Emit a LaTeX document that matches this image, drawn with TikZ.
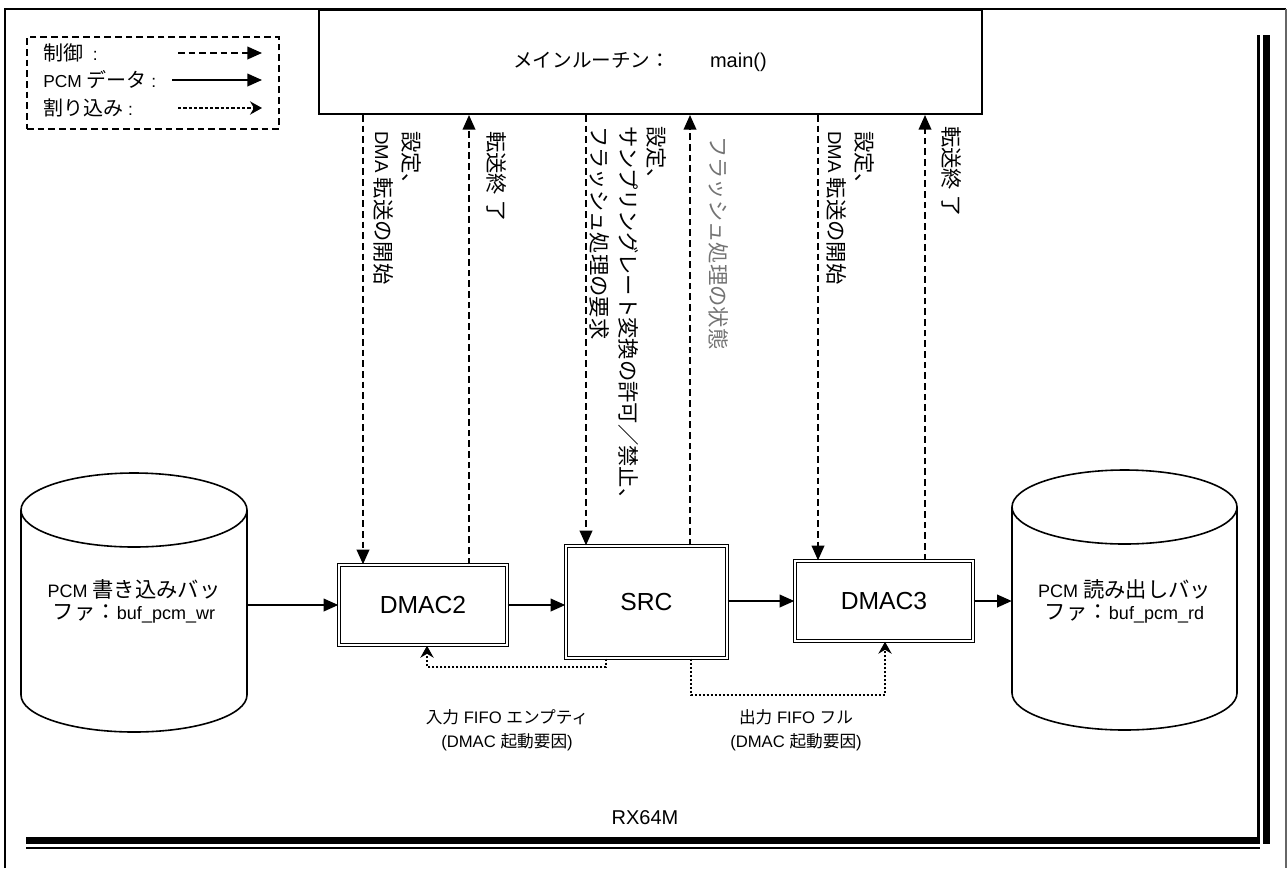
\documentclass[tikz,border=0pt]{standalone}
\usepackage{fontspec}
\setmainfont{Liberation Sans}
\newfontfamily\jp{Noto Sans CJK JP}
\newcommand\jtxt[2]{{\fontsize{#1}{#1}\selectfont\jp #2}}
\usetikzlibrary{arrows.meta}
\begin{document}
\begin{tikzpicture}[x=0.75pt,y=-0.75pt,
  ctrl/.style={line width=1.3pt, dash pattern=on 5pt off 3pt, -{Triangle[length=11pt,width=9.5pt]}},
  data/.style={line width=1.3pt, -{Triangle[length=11pt,width=9.5pt]}},
  intr/.style={line width=1.1pt, dash pattern=on 1.5pt off 1.5pt, -{Stealth[length=9pt,width=10pt,inset=3pt]}},
  dbox/.style={draw, double, line width=1.1pt, double distance=1.5pt, inner sep=0, fill=white, font=\fontsize{18.5}{20}\selectfont},
  vlab/.style={rotate=-90, anchor=north west, align=left, inner sep=0, font=\fontsize{14}{21.5}\selectfont},
  cyl/.style={line width=1.2pt},
  ctext/.style={inner sep=0, align=center, font=\fontsize{13.5}{16.5}\selectfont},
  ltext/.style={anchor=west, inner sep=0, font=\fontsize{13}{14}\selectfont},
  blab/.style={inner sep=0, align=center, font=\fontsize{12.5}{18}\selectfont}
]
\useasboundingbox (0,0) rectangle (1287,868);

% page frame
\draw[line width=1.5pt] (5,868) -- (5,9) -- (1286,9);
\draw[line width=1pt, black!60] (1286,9) -- (1286,868);

% RX64M frame (thick-thin)
\fill (26,836.5) rectangle (1260,844);
\draw[line width=1.8pt] (26,848) -- (1260,848);
\draw[line width=1.8pt] (1258.5,35) -- (1258.5,844);
\fill (1263,35) rectangle (1270,844);
\node[inner sep=0, font=\fontsize{15}{16}\selectfont] (rx) at (645,818) {RX64M};

% legend
\node[draw, line width=1.3pt, dash pattern=on 5pt off 3pt, minimum width=189pt, minimum height=69pt, inner sep=0] (leg) at (153,83) {};
\node[ltext] (lt1) at (43,53) {\jtxt{15}{制御}\ \ :};
\node[ltext] (lt2) at (43,80) {PCM \jtxt{15}{データ} :};
\node[ltext] (lt3) at (43,108) {\jtxt{15}{割り込み} :};
\coordinate (la1) at (178,53); \coordinate (lb1) at (262,53);
\coordinate (la2) at (172,80); \coordinate (lb2) at (262,80);
\coordinate (la3) at (178,108); \coordinate (lb3) at (262,108);
\draw[ctrl] (la1) -- (lb1);
\draw[data] (la2) -- (lb2);
\draw[intr, dash pattern=on 2.5pt off 1.5pt] (la3) -- (lb3);

% main routine box
\node[draw, line width=1.5pt, minimum width=497pt, minimum height=78pt, inner sep=0] (main) at (650.5,62) {};
\node[anchor=west, inner sep=0] (title) at (513,62) {\jtxt{14.7}{メインルーチン：}\hspace{30pt}{\fontsize{15}{16}\selectfont main()}};

% blocks
\node[dbox, minimum width=126pt, minimum height=60pt] (d2) at (423,605) {DMAC2};
\node[dbox, minimum width=120.75pt, minimum height=84pt] (src) at (646.5,602) {SRC};
\node[dbox, minimum width=133.5pt, minimum height=60pt] (d3) at (884,601) {DMAC3};

% cylinders
\draw[cyl, fill=white] (21,510) -- (21,695) arc[start angle=180, end angle=360, x radius=84.75pt, y radius=27.75pt] -- (247,510);
\draw[cyl] (134,510) ellipse [x radius=84.75pt, y radius=27.75pt];
\node[ctext, minimum width=169.5pt] (wr) at (134,601) {PCM \jtxt{16}{書き込みバッ}\\\jtxt{16}{ファ：}buf\_pcm\_wr};

\draw[cyl, fill=white] (1012,507) -- (1012,693) arc[start angle=180, end angle=360, x radius=84.375pt, y radius=27.75pt] -- (1237,507);
\draw[cyl] (1124.5,507) ellipse [x radius=84.375pt, y radius=27.75pt];
\node[ctext, minimum width=168.75pt] (rd) at (1124.5,601) {PCM \jtxt{16}{読み出しバッ}\\\jtxt{16}{ファ：}buf\_pcm\_rd};

% data flow
\draw[data] (wr.east |- d2.west) -- (d2.west);
\draw[data] (d2.east) -- (src.west |- d2.east);
\draw[data] (src.east |- d3.west) -- (d3.west);
\draw[data] (d3.east) -- (rd.west |- d3.east);

% control arrows
\coordinate (v1) at (363,0);
\coordinate (v2) at (469,0);
\coordinate (v3) at (586,0);
\coordinate (v4) at (690,0);
\coordinate (v5) at (818,0);
\coordinate (v6) at (925,0);
\draw[ctrl] (main.south -| v1) -- (d2.north -| v1);
\draw[ctrl] (d2.north -| v2) -- (main.south -| v2);
\draw[ctrl] (main.south -| v3) -- (src.north -| v3);
\draw[ctrl] (src.north -| v4) -- (main.south -| v4);
\draw[ctrl] (main.south -| v5) -- (d3.north -| v5);
\draw[ctrl] (d3.north -| v6) -- (main.south -| v6);

% vertical labels
\node[vlab] (l1) at (422,131) {\jtxt{16}{設定、}\\DMA \jtxt{16}{転送の開始}};
\node[vlab] (l2) at (507,131) {\jtxt{16}{転送終 了}};
\node[vlab] (l3) at (667,126) {\jtxt{16}{設定、}\\\jtxt{16}{サンプリングレート変換の許可／禁止、}\\\jtxt{16}{フラッシュ処理の要求}};
\node[vlab, text=black!55] (l4) at (729,136) {\jtxt{16}{フラッシュ処理の状態}};
\node[vlab] (l5) at (875,131) {\jtxt{16}{設定、}\\DMA \jtxt{16}{転送の開始}};
\node[vlab] (l6) at (962,126) {\jtxt{16}{転送終 了}};

% interrupt (DMAC trigger) connectors
\coordinate (k1) at (606,667); \coordinate (k1b) at (427,667);
\draw[intr] (src.south -| k1) -- (k1) -- (k1b) -- (d2.south -| k1b);
\coordinate (k2) at (691,695); \coordinate (k2b) at (885,695);
\draw[intr] (src.south -| k2) -- (k2) -- (k2b) -- (d3.south -| k2b);

\node[blab] (b1) at (507,730) {\jtxt{12.5}{入力} FIFO \jtxt{12.5}{エンプティ}\\(DMAC \jtxt{12.5}{起動要因})};
\node[blab] (b2) at (796,730) {\jtxt{12.5}{出力} FIFO \jtxt{12.5}{フル}\\(DMAC \jtxt{12.5}{起動要因})};
\end{tikzpicture}
\end{document}
